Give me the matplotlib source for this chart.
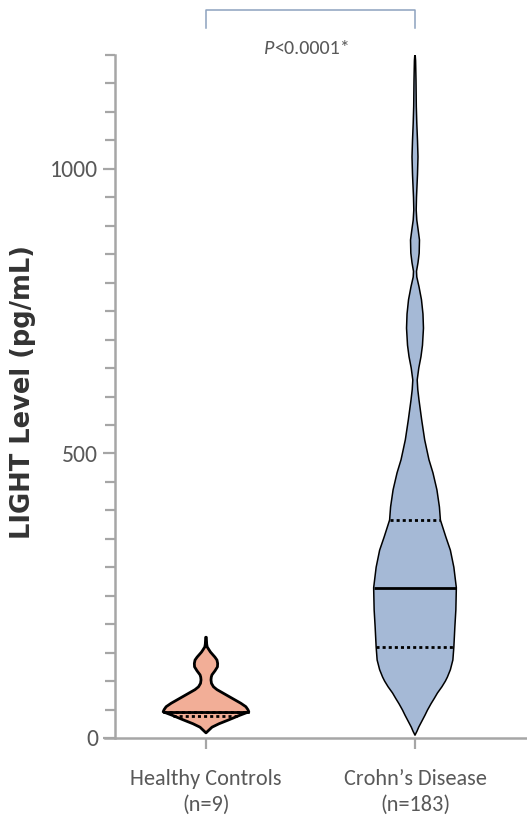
import numpy as np
import matplotlib
matplotlib.use("Agg")
import matplotlib.pyplot as plt
from matplotlib.ticker import MultipleLocator

# groups on the x axis
groups = ["Healthy Controls\n(n=9)", "Crohn\u2019s Disease\n(n=183)"]

# violin outlines: level (pg/mL) and relative half-width of the density
hc_level = [9, 14, 19, 25, 32, 40, 46, 50, 55, 61, 67, 73, 79, 85, 90, 96, 102,
            107, 111, 118, 125, 131, 137, 142, 146, 151, 155, 160, 165, 177]
hc_width = [0, 3, 6, 13, 23, 34, 43, 42, 40, 35, 29, 23, 17, 11, 7.5, 5.5, 5,
            5.3, 6, 9, 11.5, 11.7, 11, 9, 7, 4.5, 3, 1.2, 0.7, 0.3]

cd_level = [5, 12, 19, 30, 40, 49, 60, 70, 79, 90, 100, 107, 120, 137, 160, 195,
            225, 264, 300, 330, 353, 383, 406, 436, 466, 489, 524, 559, 594, 612,
            629, 650, 670, 690, 720, 745, 770, 793, 810, 820, 835, 852, 875, 895,
            910, 928, 950, 990, 1021, 1050, 1080, 1110, 1156, 1190, 1205]
cd_width = [0, 2, 3.7, 7, 10, 12.5, 16, 19.5, 22.5, 27, 30.5, 32.5, 35.5, 38, 39,
            40, 41, 41.5, 39, 35.5, 31, 25.5, 24.5, 22, 18, 14, 9.7, 6.7, 4, 2.8,
            2.2, 3.8, 6, 7.5, 8.5, 8, 6.5, 4, 1.8, 1.5, 3, 4.2, 4.5, 3, 1.8,
            1.2, 1.5, 2.5, 3, 2.5, 1.8, 1.3, 1, 0.6, 0]

# quartiles (Q1, median, Q3)
hc_quart = [39, 46, 46]
cd_quart = [160, 264, 383]

p_text = "<0.0001*"

colors = ["#f2ae97", "#a5b9d6"]
edge_lw = [2.0, 1.1]
max_half = 0.205

fig = plt.figure(figsize=(5.27, 8.26), dpi=100)
ax = fig.add_axes([105 / 527, 1 - 738 / 826, 1 - 105 / 527, (738 - 55) / 826])

narrow = dict(family=["Carlito", "DejaVu Sans"], stretch="condensed")


def draw_violin(pos, level, width, quart, color, lw):
    level = np.array(level, dtype=float)
    half = np.array(width, dtype=float) / 43.0 * max_half
    xs = np.concatenate([pos - half, (pos + half)[::-1]])
    ys = np.concatenate([level, level[::-1]])
    ax.fill(xs, ys, facecolor=color, edgecolor="black", linewidth=lw,
            joinstyle="round", zorder=3)
    for i, q in enumerate(quart):
        w = np.interp(q, level, half)
        style = "-" if i == 1 else (0, (1.1, 1.1))
        ax.plot([pos - w, pos + w], [q, q], color="black", lw=2.0,
                linestyle=style, solid_capstyle="butt",
                zorder=4 if i == 1 else 3.5)


draw_violin(0, hc_level, hc_width, hc_quart, colors[0], edge_lw[0])
draw_violin(1, cd_level, cd_width, cd_quart, colors[1], edge_lw[1])

ax.set_xlim((105 - 206) / 209, (527 - 206) / 209)
ax.set_ylim(0, 1200)

spine_col = "#a6a6a6"
for s in ["top", "right"]:
    ax.spines[s].set_visible(False)
ax.spines["left"].set_position(("data", (115 - 206) / 209))
for s in ["left", "bottom"]:
    ax.spines[s].set_color(spine_col)
    ax.spines[s].set_linewidth(1.8)

ax.yaxis.set_major_locator(MultipleLocator(500))
ax.yaxis.set_minor_locator(MultipleLocator(50))
ax.tick_params(axis="y", which="both", length=7, width=1.6, color=spine_col,
               labelcolor="#595959", pad=3)
ax.tick_params(axis="y", which="major", length=9)
for lab in ax.get_yticklabels():
    lab.set(**narrow, fontsize=17)

ax.set_xticks([0, 1])
ax.set_xticklabels(groups, **narrow, fontsize=16, color="#595959",
                   linespacing=1.4)
ax.tick_params(axis="x", length=8, width=1.6, color=spine_col, pad=14)

fig.text(23 / 527, 1 - 392 / 826, "LIGHT Level (pg/mL)", rotation=90,
         ha="center", va="center", family="DejaVu Sans", fontsize=18.5,
         fontweight="bold", color="#333333")

# significance bracket
br_col = "#8da2bf"
ax.plot([0, 0, 1, 1], [1248, 1279, 1279, 1248], color=br_col, lw=1.1,
        clip_on=False)
ax.text(0.325, 1202, "P", **narrow, style="italic", fontsize=14.5,
        color="#595959", ha="right", va="baseline")
ax.text(0.325, 1202, p_text, **narrow, fontsize=14.5,
        color="#595959", ha="left", va="baseline")

fig.savefig("out.png", dpi=100)
